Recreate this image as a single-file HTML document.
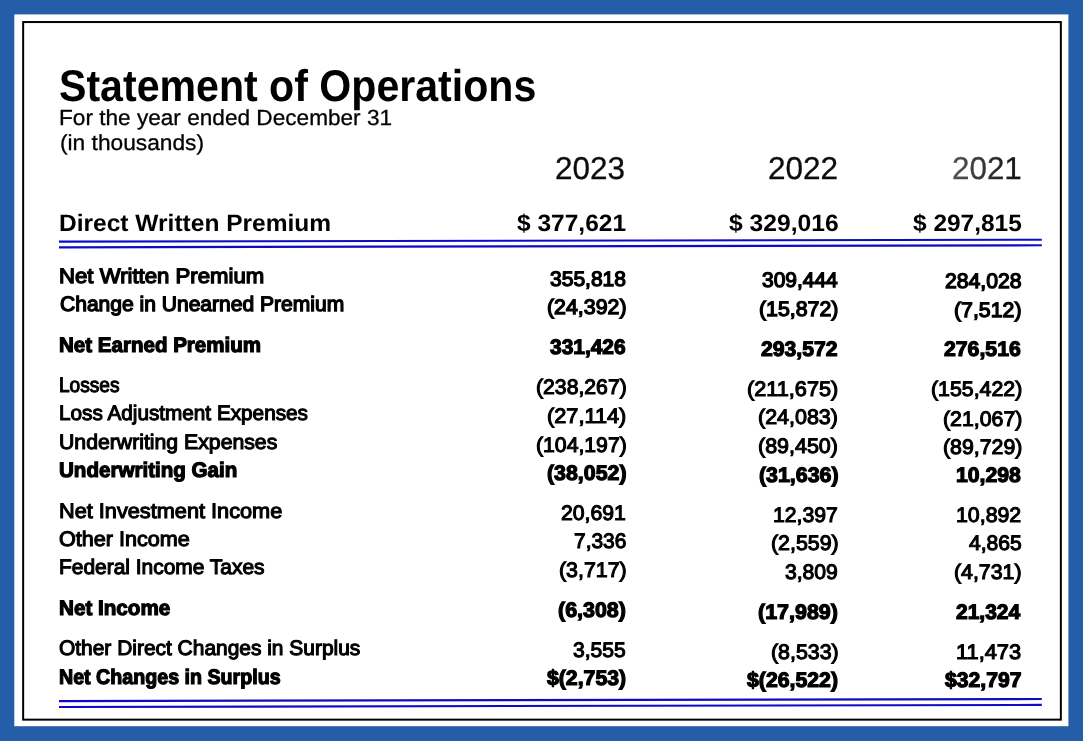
<!DOCTYPE html>
<html lang="en"><head><meta charset="utf-8"><title>Statement of Operations</title>
<style>
html,body{margin:0;padding:0}
body{width:1083px;height:741px;overflow:hidden;background:#245ea8;position:relative;font-family:"Liberation Sans",sans-serif;color:#000;text-rendering:geometricPrecision}
.t{position:absolute;white-space:nowrap;line-height:1;transform-origin:0 0}
.b,.h{font-weight:bold}
.r{-webkit-text-stroke:0.3px #000}
.m{-webkit-text-stroke:1.1px #000}
.k{-webkit-text-stroke:1.3px #000}
.h{-webkit-text-stroke:1.2px #000}
.l{color:#0c0c0c;-webkit-text-stroke:0.3px #0c0c0c}
.g{color:#0c0c0c;-webkit-text-stroke:0.3px #0c0c0c}
.fade{position:absolute;left:949px;top:150px;width:76px;height:36px;background:linear-gradient(90deg,rgba(255,255,255,.30) 0%,rgba(255,255,255,.16) 50%,rgba(255,255,255,0) 100%);pointer-events:none}
.bg{position:absolute;left:0;top:0;display:block}
</style></head><body>
<svg class="bg" width="1083" height="741" viewBox="0 0 1083 741">
<rect x="14.3" y="14.4" width="1054.1" height="711.8" fill="#fff"/>
<rect x="23.15" y="22.05" width="1037.7" height="697.6" fill="none" stroke="#000" stroke-width="2"/>
<g stroke="#0c0cc6" stroke-width="2.15" fill="none">
<line x1="59" y1="241.65" x2="1041.8" y2="239.75"/>
<line x1="59" y1="247.35" x2="1041.8" y2="245.25"/>
<line x1="59" y1="701.1" x2="1041.8" y2="699.0"/>
<line x1="59" y1="707.0" x2="1041.8" y2="704.9"/>
</g>
</svg>
<div class="t b" style="left:59.27px;top:65px;font-size:44.4px;transform:scaleX(0.9259)">Statement of Operations</div>
<div class="t r" style="left:59.15px;top:107px;font-size:21.8px;transform:scaleX(1.0374)">For the year ended December 31</div>
<div class="t r" style="left:59.59px;top:132px;font-size:21.8px;transform:scaleX(1.0428)">(in thousands)</div>
<div class="t l" style="left:555.18px;top:153px;font-size:31.5px;transform:scaleX(0.9986)">2023</div>
<div class="t l" style="left:767.97px;top:153px;font-size:31.5px;transform:scaleX(1.0009)">2022</div>
<div class="t g" style="left:952.28px;top:153px;font-size:31.5px;transform:scaleX(0.9965)">2021</div>
<div class="t b" style="left:59.10px;top:213px;font-size:23.7px;transform:scaleX(1.0355)">Direct Written Premium</div>
<div class="t b" style="left:517.03px;top:213px;font-size:23.7px;transform:scaleX(1.0352)">$ 377,621</div>
<div class="t b" style="left:729.13px;top:213px;font-size:23.7px;transform:scaleX(1.0405)">$ 329,016</div>
<div class="t b" style="left:913.23px;top:213px;font-size:23.7px;transform:scaleX(1.0324)">$ 297,815</div>
<div class="t k" style="left:58.91px;top:266px;font-size:21.0px;transform:scaleX(1.0549)">Net Written Premium</div>
<div class="t k" style="left:549.81px;top:269px;font-size:21.0px;transform:scaleX(1.0009)">355,818</div>
<div class="t k" style="left:761.81px;top:270px;font-size:21.0px;transform:scaleX(0.9981)">309,444</div>
<div class="t k" style="left:944.70px;top:271px;font-size:21.0px;transform:scaleX(1.0090)">284,028</div>
<div class="t k" style="left:59.60px;top:294px;font-size:21.0px;transform:scaleX(1.0018)">Change in Unearned Premium</div>
<div class="t k" style="left:546.78px;top:297px;font-size:21.0px;transform:scaleX(1.0169)">(24,392)</div>
<div class="t k" style="left:758.88px;top:299px;font-size:21.0px;transform:scaleX(1.0156)">(15,872)</div>
<div class="t k" style="left:954.28px;top:300px;font-size:21.0px;transform:scaleX(1.0146)">(7,512)</div>
<div class="t h" style="left:59.25px;top:335px;font-size:21.0px;transform:scaleX(0.9780)">Net Earned Premium</div>
<div class="t h" style="left:550.07px;top:337px;font-size:21.0px;transform:scaleX(0.9966)">331,426</div>
<div class="t h" style="left:761.36px;top:339px;font-size:21.0px;transform:scaleX(1.0074)">293,572</div>
<div class="t h" style="left:944.46px;top:339px;font-size:21.0px;transform:scaleX(1.0113)">276,516</div>
<div class="t m" style="left:58.97px;top:375px;font-size:21.0px;transform:scaleX(0.9087)">Losses</div>
<div class="t m" style="left:535.58px;top:377px;font-size:21.0px;transform:scaleX(1.0095)">(238,267)</div>
<div class="t m" style="left:747.07px;top:379px;font-size:21.0px;transform:scaleX(1.0336)">(211,675)</div>
<div class="t m" style="left:930.58px;top:379px;font-size:21.0px;transform:scaleX(1.0151)">(155,422)</div>
<div class="t m" style="left:58.88px;top:403px;font-size:21.0px;transform:scaleX(0.9873)">Loss Adjustment Expenses</div>
<div class="t m" style="left:547.07px;top:406px;font-size:21.0px;transform:scaleX(1.0342)">(27,114)</div>
<div class="t m" style="left:758.47px;top:407px;font-size:21.0px;transform:scaleX(1.0222)">(24,083)</div>
<div class="t m" style="left:942.58px;top:409px;font-size:21.0px;transform:scaleX(1.0143)">(21,067)</div>
<div class="t m" style="left:58.96px;top:432px;font-size:21.0px;transform:scaleX(1.0108)">Underwriting Expenses</div>
<div class="t m" style="left:535.58px;top:435px;font-size:21.0px;transform:scaleX(1.0095)">(104,197)</div>
<div class="t m" style="left:758.47px;top:436px;font-size:21.0px;transform:scaleX(1.0222)">(89,450)</div>
<div class="t m" style="left:942.58px;top:437px;font-size:21.0px;transform:scaleX(1.0143)">(89,729)</div>
<div class="t h" style="left:59.35px;top:460px;font-size:21.0px;transform:scaleX(0.9798)">Underwriting Gain</div>
<div class="t h" style="left:546.54px;top:463px;font-size:21.0px;transform:scaleX(1.0165)">(38,052)</div>
<div class="t h" style="left:758.54px;top:465px;font-size:21.0px;transform:scaleX(1.0165)">(31,636)</div>
<div class="t h" style="left:956.23px;top:465px;font-size:21.0px;transform:scaleX(1.0100)">10,298</div>
<div class="t m" style="left:58.83px;top:501px;font-size:21.0px;transform:scaleX(1.0338)">Net Investment Income</div>
<div class="t m" style="left:561.19px;top:503px;font-size:21.0px;transform:scaleX(1.0101)">20,691</div>
<div class="t m" style="left:773.16px;top:505px;font-size:21.0px;transform:scaleX(1.0106)">12,397</div>
<div class="t m" style="left:956.36px;top:505px;font-size:21.0px;transform:scaleX(1.0154)">10,892</div>
<div class="t m" style="left:58.79px;top:529px;font-size:21.0px;transform:scaleX(1.0288)">Other Income</div>
<div class="t m" style="left:573.70px;top:531px;font-size:21.0px;transform:scaleX(0.9960)">7,336</div>
<div class="t m" style="left:770.68px;top:533px;font-size:21.0px;transform:scaleX(1.0178)">(2,559)</div>
<div class="t m" style="left:968.73px;top:533px;font-size:21.0px;transform:scaleX(1.0032)">4,865</div>
<div class="t m" style="left:58.87px;top:557px;font-size:21.0px;transform:scaleX(0.9966)">Federal Income Taxes</div>
<div class="t m" style="left:558.78px;top:560px;font-size:21.0px;transform:scaleX(1.0162)">(3,717)</div>
<div class="t m" style="left:785.21px;top:562px;font-size:21.0px;transform:scaleX(1.0055)">3,809</div>
<div class="t m" style="left:954.38px;top:562px;font-size:21.0px;transform:scaleX(1.0147)">(4,731)</div>
<div class="t h" style="left:59.25px;top:598px;font-size:21.0px;transform:scaleX(0.9832)">Net Income</div>
<div class="t h" style="left:558.14px;top:600px;font-size:21.0px;transform:scaleX(1.0203)">(6,308)</div>
<div class="t h" style="left:758.14px;top:602px;font-size:21.0px;transform:scaleX(1.0217)">(17,989)</div>
<div class="t h" style="left:956.47px;top:602px;font-size:21.0px;transform:scaleX(0.9981)">21,324</div>
<div class="t m" style="left:58.81px;top:638px;font-size:21.0px;transform:scaleX(0.9966)">Other Direct Changes in Surplus</div>
<div class="t m" style="left:573.31px;top:640px;font-size:21.0px;transform:scaleX(1.0015)">3,555</div>
<div class="t m" style="left:770.68px;top:642px;font-size:21.0px;transform:scaleX(1.0178)">(8,533)</div>
<div class="t m" style="left:956.33px;top:642px;font-size:21.0px;transform:scaleX(1.0397)">11,473</div>
<div class="t h" style="left:59.28px;top:667px;font-size:21.0px;transform:scaleX(0.9357)">Net Changes in Surplus</div>
<div class="t h" style="left:546.99px;top:668px;font-size:21.0px;transform:scaleX(1.0108)">$(2,753)</div>
<div class="t h" style="left:746.99px;top:670px;font-size:21.0px;transform:scaleX(1.0120)">$(26,522)</div>
<div class="t h" style="left:944.99px;top:670px;font-size:21.0px;transform:scaleX(1.0072)">$32,797</div>
<div class="fade"></div>
</body></html>
